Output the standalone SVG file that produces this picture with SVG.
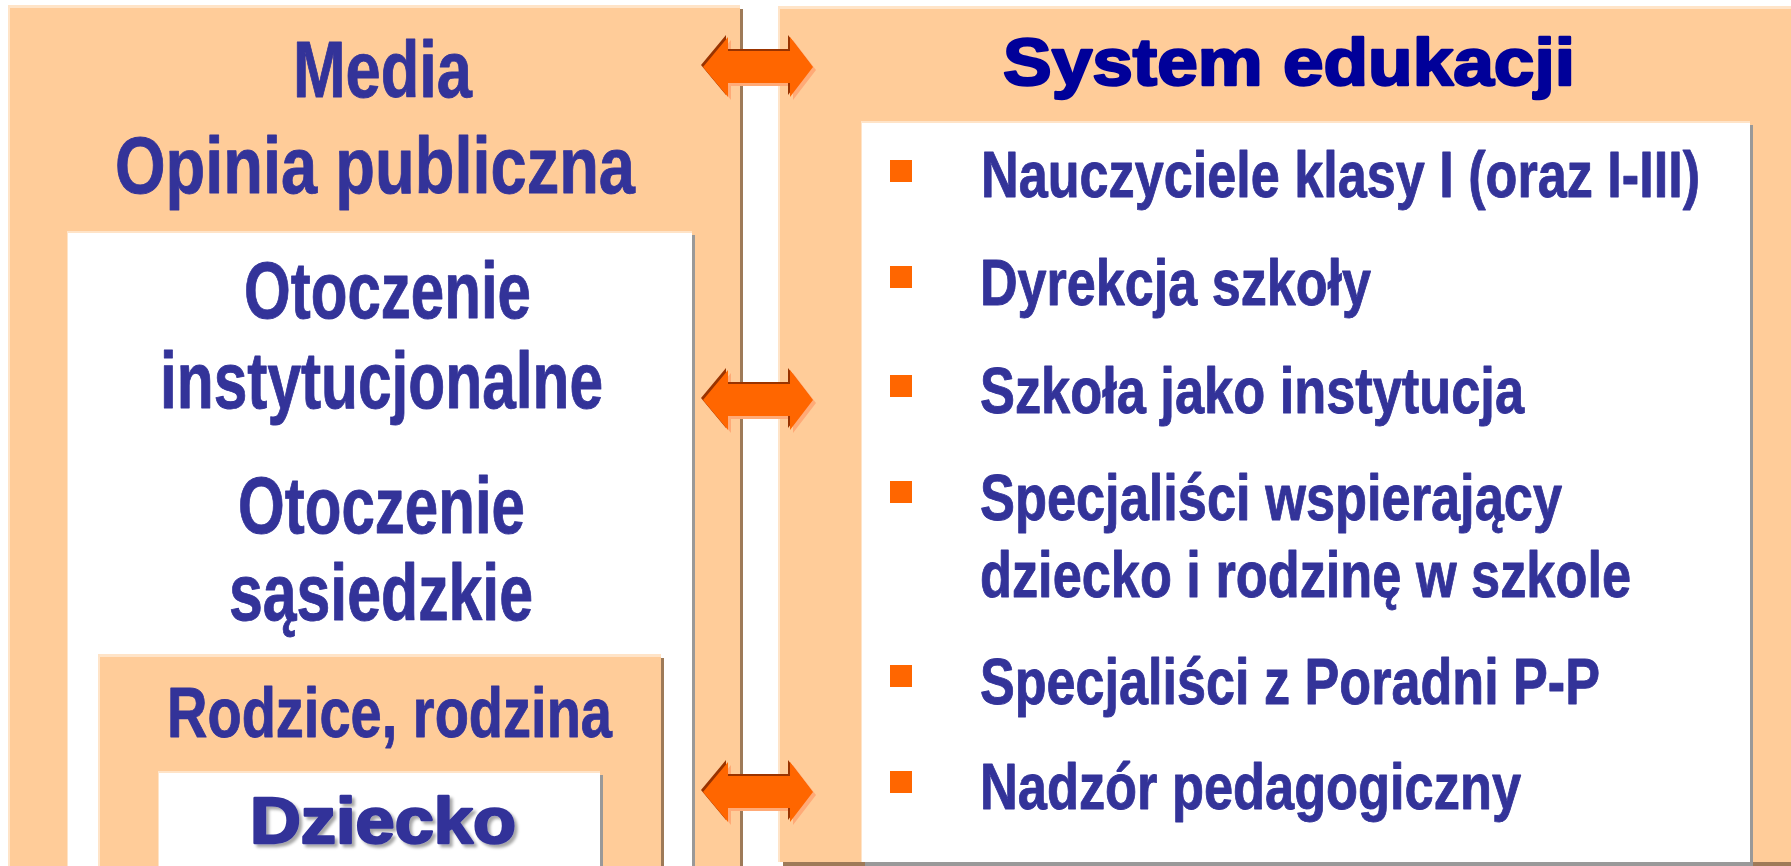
<svg xmlns="http://www.w3.org/2000/svg" xmlns:xlink="http://www.w3.org/1999/xlink" width="1791" height="866" viewBox="0 0 1791 866">
<style>
.ob{fill:#FFCC99}
.obl{fill:#FFE4C8}
.osh{fill:#9E7A58}
.wb{fill:#FFFFFF}
.wsh{fill:#999999}
.t{font-family:"Liberation Sans",Arial,sans-serif;font-weight:bold;fill:#333399;stroke:#333399;stroke-width:0.9;stroke-linejoin:round}
.tl{font-size:79px}
.tr{font-size:64px}
.blk{font-family:"Liberation Sans",Arial,sans-serif;font-weight:bold;stroke-width:2.4;stroke-linejoin:round}
.bul{fill:#FF6600}
</style>
<defs>
<polygon id="arr" points="-55,0 -30,-30 -30,-16 32,-16 32,-30 55,0 32,30 32,16 -30,16 -30,30"/>
<filter id="ts" x="-10%" y="-10%" width="130%" height="140%">
<feGaussianBlur in="SourceAlpha" stdDeviation="1.5"/>
<feOffset dx="3" dy="3" result="b"/>
<feFlood flood-color="#000000" flood-opacity="0.35"/>
<feComposite in2="b" operator="in"/>
<feMerge><feMergeNode/><feMergeNode in="SourceGraphic"/></feMerge>
</filter>
</defs>
<rect width="1791" height="866" fill="#FFFFFF"/>

<g id="node-media">
<rect class="osh" x="12" y="9" width="731" height="870"/>
<rect class="obl" x="8" y="5" width="732" height="870"/>
<rect class="ob" x="10" y="8" width="730" height="870"/>
<text class="t tl" x="293" y="97" textLength="179" lengthAdjust="spacingAndGlyphs">Media</text>
<text class="t tl" x="115" y="193" textLength="520" lengthAdjust="spacingAndGlyphs">Opinia publiczna</text>
</g>

<g id="node-otoczenie">
<rect class="wsh" x="71" y="235" width="624" height="640"/>
<rect class="obl" x="67" y="231" width="625" height="640"/>
<rect class="wb" x="68" y="233" width="624" height="640"/>
<text class="t tl" x="244" y="318" textLength="287" lengthAdjust="spacingAndGlyphs">Otoczenie</text>
<text class="t tl" x="160" y="408" textLength="443" lengthAdjust="spacingAndGlyphs">instytucjonalne</text>
<text class="t tl" x="238" y="533" textLength="287" lengthAdjust="spacingAndGlyphs">Otoczenie</text>
<text class="t tl" x="229" y="620" textLength="304" lengthAdjust="spacingAndGlyphs">sąsiedzkie</text>
</g>

<g id="node-rodzice">
<rect class="osh" x="102" y="658" width="562" height="220"/>
<rect class="obl" x="98" y="654" width="563" height="220"/>
<rect class="ob" x="100" y="657" width="561" height="220"/>
<text class="t" style="font-size:70px" x="167" y="737" textLength="445" lengthAdjust="spacingAndGlyphs">Rodzice, rodzina</text>
</g>

<g id="node-dziecko">
<rect class="wsh" x="162" y="775" width="441" height="100"/>
<rect class="obl" x="158" y="771" width="442" height="100"/>
<rect class="wb" x="159" y="773" width="441" height="100"/>
<text class="blk" filter="url(#ts)" style="font-size:64px;fill:#333399;stroke:#333399" x="250" y="843" textLength="266" lengthAdjust="spacingAndGlyphs">Dziecko</text>
</g>

<g id="node-system">
<rect class="osh" x="783" y="10" width="1020" height="856"/>
<rect class="obl" x="778" y="6" width="1020" height="856"/>
<rect class="ob" x="780" y="9" width="1020" height="853"/>
<text class="blk" style="font-size:66px;fill:#000099;stroke:#000099" x="1003" y="85" textLength="572" lengthAdjust="spacingAndGlyphs">System edukacji</text>
</g>

<g id="node-list">
<rect class="wsh" x="865" y="125" width="888" height="741"/>
<rect class="obl" x="861" y="121" width="889" height="741"/>
<rect class="wb" x="862" y="123" width="888" height="739"/>
<rect class="bul" x="890" y="160" width="22" height="22"/>
<text class="t tr" x="981" y="197" textLength="719" lengthAdjust="spacingAndGlyphs">Nauczyciele klasy I (oraz I-III)</text>
<rect class="bul" x="890" y="266" width="22" height="22"/>
<text class="t tr" x="980" y="305" textLength="391" lengthAdjust="spacingAndGlyphs">Dyrekcja szkoły</text>
<rect class="bul" x="890" y="375" width="22" height="22"/>
<text class="t tr" x="980" y="413" textLength="544" lengthAdjust="spacingAndGlyphs">Szkoła jako instytucja</text>
<rect class="bul" x="890" y="481" width="22" height="22"/>
<text class="t tr" x="980" y="520" textLength="582" lengthAdjust="spacingAndGlyphs">Specjaliści wspierający</text>
<text class="t tr" x="980" y="597" textLength="651" lengthAdjust="spacingAndGlyphs">dziecko i rodzinę w szkole</text>
<rect class="bul" x="890" y="665" width="22" height="22"/>
<text class="t tr" x="980" y="704" textLength="620" lengthAdjust="spacingAndGlyphs">Specjaliści z Poradni P-P</text>
<rect class="bul" x="890" y="771" width="22" height="22"/>
<text class="t tr" x="980" y="809" textLength="541" lengthAdjust="spacingAndGlyphs">Nadzór pedagogiczny</text>
</g>

<g id="connectors">
<g transform="translate(758,67)">
<use xlink:href="#arr" href="#arr" fill="#FFAA77" transform="translate(3,3)"/>
<use xlink:href="#arr" href="#arr" fill="#993300" transform="translate(-2,-2)"/>
<use xlink:href="#arr" href="#arr" fill="#FF6600"/>
</g>
<g transform="translate(758,400)">
<use xlink:href="#arr" href="#arr" fill="#FFAA77" transform="translate(3,3)"/>
<use xlink:href="#arr" href="#arr" fill="#993300" transform="translate(-2,-2)"/>
<use xlink:href="#arr" href="#arr" fill="#FF6600"/>
</g>
<g transform="translate(758,792)">
<use xlink:href="#arr" href="#arr" fill="#FFAA77" transform="translate(3,3)"/>
<use xlink:href="#arr" href="#arr" fill="#993300" transform="translate(-2,-2)"/>
<use xlink:href="#arr" href="#arr" fill="#FF6600"/>
</g>
</g>
</svg>
